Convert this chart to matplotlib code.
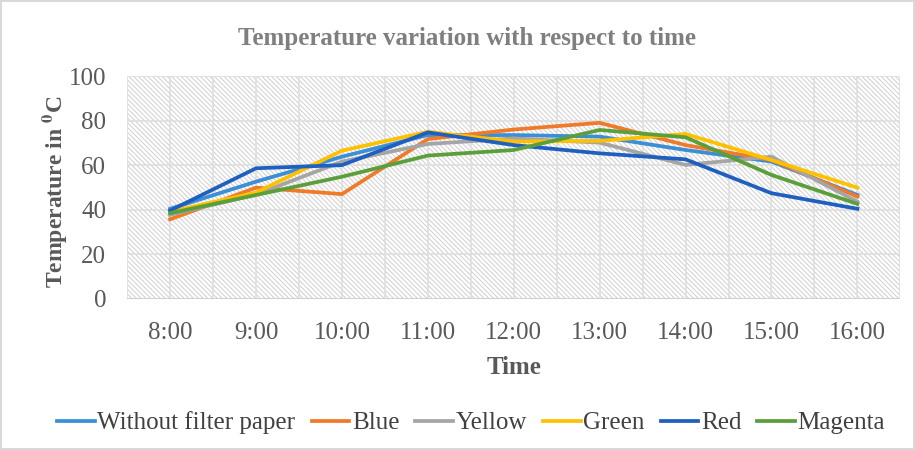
import numpy as np
import matplotlib
matplotlib.use('Agg')
import matplotlib.pyplot as plt

plt.rcParams['font.family'] = 'serif'
plt.rcParams['font.serif'] = ['Liberation Serif', 'DejaVu Serif']
plt.rcParams['mathtext.fontset'] = 'stix'
plt.rcParams['hatch.color'] = '#cfcfcf'
plt.rcParams['hatch.linewidth'] = 0.7

# Data
times = ['8:00', '9:00', '10:00', '11:00', '12:00', '13:00', '14:00', '15:00', '16:00']
without_filter = [40.4, 52.6, 63.8, 73.5, 73.5, 72.8, 66.8, 61.6, 46.6]
blue = [35.7, 49.9, 47.0, 71.7, 76.0, 79.0, 69.0, 62.3, 45.9]
yellow = [37.7, 46.8, 61.6, 69.5, 72.0, 70.1, 60.1, 63.8, 43.6]
green = [39.1, 47.7, 66.5, 75.0, 70.6, 70.9, 74.0, 62.3, 49.9]
red = [39.6, 58.6, 60.0, 74.7, 69.0, 65.3, 62.6, 47.4, 40.4]
magenta = [38.4, 46.6, 54.8, 64.3, 66.8, 75.8, 72.5, 55.6, 42.6]

series = [
    ('Without filter paper', without_filter, '#3a8fd6'),
    ('Blue', blue, '#ef7a2a'),
    ('Yellow', yellow, '#a5a5a5'),
    ('Green', green, '#ffc000'),
    ('Red', red, '#1f5fbf'),
    ('Magenta', magenta, '#5b9f3a'),
]

fig = plt.figure(figsize=(9.15, 4.5), dpi=100)
fig.patch.set_edgecolor('#d9d9d9')
fig.patch.set_linewidth(1.5)
ax = fig.add_axes([0.139, 0.336, 0.845, 0.495])

x = np.arange(len(times))
ax.set_xlim(-0.5, len(times) - 0.5)
ax.set_ylim(0, 100)

# hatched background
ax.patch.set_facecolor('white')
ax.fill_between([-0.5, len(times) - 0.5], 0, 100, facecolor='white',
                hatch='\\' * 7, edgecolor='#cfcfcf', linewidth=0, zorder=0)

# gridlines (major and minor)
for xv in np.arange(-0.5, len(times), 0.5):
    ax.axvline(xv, color='#e0e0e0', lw=1.3, zorder=1)
for yv in range(0, 101, 20):
    ax.axhline(yv, color='#e0e0e0', lw=1.3, zorder=1)

for name, vals, col in series:
    ax.plot(x, vals, color=col, lw=2.7, label=name, zorder=3,
            solid_joinstyle='round')

for s in ax.spines.values():
    s.set_visible(False)
ax.axhline(0, color='#d0d0d0', lw=1.3, zorder=2)

ax.set_xticks(x)
ax.set_xticklabels(times)
ax.set_yticks(range(0, 101, 20))
ax.tick_params(length=0, labelsize=18, colors='#595959')
ax.tick_params(axis='y', pad=15)
ax.tick_params(axis='x', pad=17)

ax.set_xlabel('Time', fontsize=18, fontweight='bold', color='#595959')
ax.xaxis.set_label_coords(0.5, -0.255)
ax.set_ylabel('Temperature in $^{\\mathbf{0}}$C', fontsize=17, fontweight='bold',
              color='#595959')
ax.yaxis.set_label_coords(-0.075, 0.48)

fig.text(0.51, 0.915, 'Temperature variation with respect to time', fontsize=18,
         fontweight='bold', color='#7f7f7f', ha='center', va='center')

leg = fig.legend(loc='center', bbox_to_anchor=(0.515, 0.06), ncol=6,
                 frameon=False, fontsize=18, handlelength=1.5,
                 handletextpad=0.1, columnspacing=0.65)
for t in leg.get_texts():
    t.set_color('#404040')

fig.savefig('out.png', dpi=100, edgecolor=fig.get_edgecolor())
